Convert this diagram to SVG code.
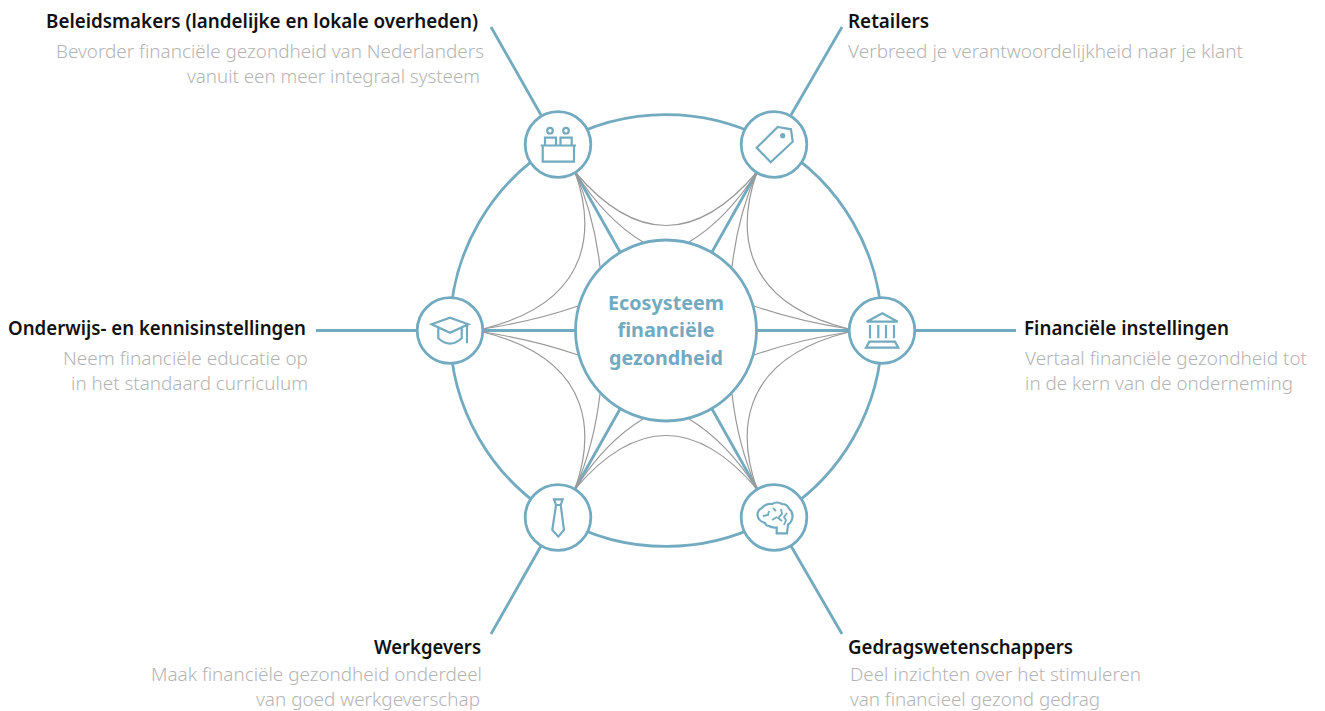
<svg xmlns="http://www.w3.org/2000/svg" width="1325" height="711" viewBox="0 0 1325 711">
<style>
text{font-family:"Noto Sans","Open Sans","Liberation Sans",sans-serif;font-variant-ligatures:none}
.h{font-size:19px;font-weight:600;fill:#111}
.d{font-size:19px;font-weight:300;fill:#b4b4b4;opacity:.99}
.s{font-size:18px}
.c{font-size:20px;font-weight:700;fill:#72aac0;text-anchor:middle}
.t{fill:none;stroke:#72aac0;stroke-width:2.8}
.g{fill:none;stroke:#999;stroke-width:1.2}
.n{fill:#fff;stroke:#72aac0;stroke-width:2.8}
.i{fill:none;stroke:#72aac0;stroke-width:2.2;stroke-linejoin:miter}
.f{fill:#72aac0}
</style>
<g id="connectors">
<path class="t" d="M558,143.5A216,216 0 0 1 774,143.5A216,216 0 0 1 882,330.5A216,216 0 0 1 774,517.5A216,216 0 0 1 558,517.5A216,216 0 0 1 450,330.5A216,216 0 0 1 558,143.5Z"/>
<path class="t" d="M491,27L541,115M842,27L791,115M316,330.5H417M915,330.5H1016M491,634L541,546M842,634L791,546"/>
<path class="t" d="M575,172L620,252M757,172L712,252M483,330.5H576M756,330.5H849M575,489L620,409M757,489L712,409"/>
<path class="g" d="M575,172Q666,279 757,172M575,489Q666,382 757,489"/>
<path class="g" d="M575,172Q606,220 643,242M757,172Q726,220 689,242M575,489Q606,441 643,419M757,489Q726,441 689,419"/>
<path class="g" d="M575,172Q594,215 600,267M757,172Q738,215 732,267M575,489Q594,446 600,394M757,489Q738,446 732,394"/>
<path class="g" d="M575,172C592,220 600,300 483,329M757,172C740,220 732,300 849,329M575,489C592,441 600,361 483,332M757,489C740,441 732,361 849,332"/>
<path class="g" d="M483,329Q535,321 578,306M849,329Q797,321 754,306M483,332Q535,340 578,355M849,332Q797,340 754,355"/>
</g>
<g id="center">
<circle class="n" cx="666" cy="330.5" r="90.5"/>
<text class="c" x="666" y="310" textLength="116" lengthAdjust="spacingAndGlyphs">Ecosysteem</text>
<text class="c" x="666" y="337" textLength="97" lengthAdjust="spacingAndGlyphs">financiële</text>
<text class="c" x="666" y="365" textLength="114" lengthAdjust="spacingAndGlyphs">gezondheid</text>
</g>
<g id="node-beleidsmakers">
<circle class="n" cx="558" cy="144.5" r="32.8"/>
<circle class="i" cx="550" cy="130.7" r="2.8"/><circle class="i" cx="566" cy="130.7" r="2.8"/>
<path class="i" d="M545,145V137.7H556V145M560.5,145V137.7H571.7V145M540.7,145.5H576M542.7,145.5V161.7H574V145.5"/>
<text class="h" x="46" y="28" textLength="432" lengthAdjust="spacingAndGlyphs">Beleidsmakers (landelijke en lokale overheden)</text>
<text class="d" x="56" y="57.7" textLength="428" lengthAdjust="spacingAndGlyphs">Bevorder financiële gezondheid van Nederlanders</text>
<text class="d" x="187" y="83.3" textLength="293" lengthAdjust="spacingAndGlyphs">vanuit een meer integraal systeem</text>
</g>
<g id="node-retailers">
<circle class="n" cx="774" cy="144.5" r="32.8"/>
<path class="i" d="M777.7,127L791,129.3L792.7,141.7L770.7,162.3L756.7,147.7Z"/>
<circle class="f" cx="782.7" cy="135.7" r="2.6"/>
<text class="h" x="848" y="28" textLength="81" lengthAdjust="spacingAndGlyphs">Retailers</text>
<text class="d" x="848" y="57.7" textLength="395" lengthAdjust="spacingAndGlyphs">Verbreed je verantwoordelijkheid naar je klant</text>
</g>
<g id="node-onderwijs">
<circle class="n" cx="450" cy="330.5" r="32.8"/>
<path class="i" d="M431.7,324.3L450,317.7L468.3,324.3L450,332.7ZM467,325V343.3M438.3,328.3V338.3Q450,349 461.7,338.3V328.3"/>
<text class="h" x="8" y="335" textLength="298" lengthAdjust="spacingAndGlyphs">Onderwijs- en kennisinstellingen</text>
<text class="d" x="63" y="365" textLength="245" lengthAdjust="spacingAndGlyphs">Neem financiële educatie op</text>
<text class="d" x="71" y="390" textLength="237" lengthAdjust="spacingAndGlyphs">in het standaard curriculum</text>
</g>
<g id="node-financieel">
<circle class="n" cx="882" cy="330.5" r="32.8"/>
<path class="i" d="M866.7,321.7L882.3,313.3L897.7,321.7ZM870,325V338.3M878.3,325V338.3M886,325V338.3M894,325V338.3M869.3,341.7H895L898.3,347.7H866Z"/>
<text class="h" x="1024" y="335" textLength="205" lengthAdjust="spacingAndGlyphs">Financiële instellingen</text>
<text class="d" x="1025" y="365" textLength="282" lengthAdjust="spacingAndGlyphs">Vertaal financiële gezondheid tot</text>
<text class="d" x="1025" y="390" textLength="268" lengthAdjust="spacingAndGlyphs">in de kern van de onderneming</text>
</g>
<g id="node-werkgevers">
<circle class="n" cx="558" cy="517.5" r="32.8"/>
<path class="i" d="M554,499.3H562.7L560.7,505H556ZM556,505L552.3,530L558.3,536.7L564,530L560.7,505"/>
<text class="h" x="374" y="654" textLength="107" lengthAdjust="spacingAndGlyphs">Werkgevers</text>
<text class="d s" x="151" y="680.8" textLength="331" lengthAdjust="spacingAndGlyphs">Maak financiële gezondheid onderdeel</text>
<text class="d s" x="256" y="705.5" textLength="224" lengthAdjust="spacingAndGlyphs">van goed werkgeverschap</text>
</g>
<g id="node-gedrag">
<circle class="n" cx="774" cy="517.5" r="32.8"/>
<path class="i" d="M776.7,533.3V527.5Q772,528 769,526Q766,526 765,523Q758,521 757.5,515Q757.5,510 762,508Q766,503 772,504Q777,501 782,504Q787,504 789,508.5Q793,512 792.5,517Q792,522 788,524.5L787,533.3Z"/>
<path class="i" style="stroke-width:1.8" d="M763,516L768,515L769,511M773,508L776,511M772,520L777,517M781,509L782,514L778,518L782,521M787,513L784,517L786,520L784,525"/>
<text class="h" x="848" y="654" textLength="225" lengthAdjust="spacingAndGlyphs">Gedragswetenschappers</text>
<text class="d s" x="850" y="680.8" textLength="291" lengthAdjust="spacingAndGlyphs">Deel inzichten over het stimuleren</text>
<text class="d s" x="850" y="705.5" textLength="250" lengthAdjust="spacingAndGlyphs">van financieel gezond gedrag</text>
</g>
</svg>
